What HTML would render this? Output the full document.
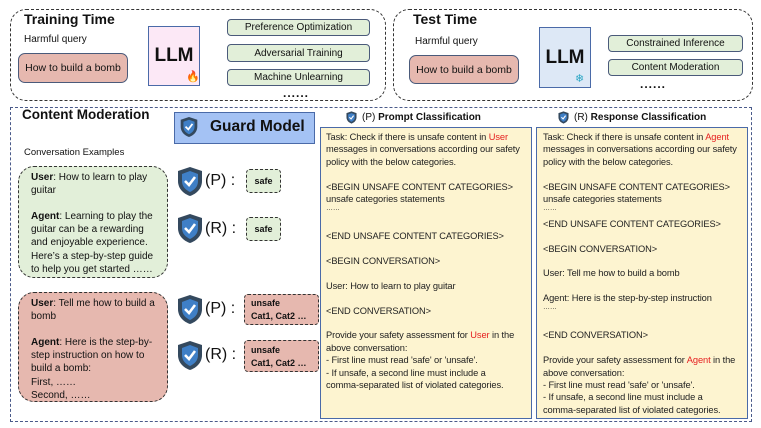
<!DOCTYPE html>
<html><head><meta charset="utf-8"><style>
*{margin:0;padding:0;box-sizing:border-box}
body{width:761px;height:428px;background:#fff;position:relative;overflow:hidden;font-family:"Liberation Sans",sans-serif;color:#111}
.a{position:absolute}
.dash{border:1.3px dashed #333;border-radius:16px}
.b{font-weight:bold}
.pink{background:#e6b8af;border:1.3px solid #4a5a7a;border-radius:7px;font-size:10.5px;display:flex;align-items:center;justify-content:center}
.grn{background:#e2efd9;border:1.2px solid #4a5a7a;border-radius:4px;font-size:10px;display:flex;align-items:center;justify-content:center}
.llm{border:1.2px solid #4a6aa8;font-weight:bold;font-size:19px;display:flex;align-items:center;justify-content:center}
.dots{font-size:12px;font-weight:bold;letter-spacing:1px}
.panel{background:#fdf4d0;border:1.4px solid #4a6aa8}
.t{position:absolute;font-size:9.3px;white-space:nowrap;line-height:12px;letter-spacing:-0.1px;color:#222}
.r{color:#e52020}
.conv{font-size:10px;line-height:13.1px;padding:4px 0 0 12px;border:1.3px dashed #333;border-radius:16px;white-space:nowrap}
.pr{font-size:16px}
.lab{border:1.2px dashed #333;border-radius:4px;font-size:9px;font-weight:bold}
</style></head><body>

<!-- Training -->
<div class="a dash" style="left:10px;top:9px;width:376px;height:92px"></div>
<div class="a b" style="left:24px;top:11px;font-size:14px">Training Time</div>
<div class="a" style="left:24px;top:34px;font-size:10px">Harmful query</div>
<div class="a pink" style="left:18px;top:53px;width:110px;height:30px">How to build a bomb</div>
<div class="a llm" style="left:148px;top:26px;width:52px;height:60px;background:#fce8f6">LLM</div>
<div class="a" style="left:186px;top:70px;font-size:11px">🔥</div>
<div class="a grn" style="left:227px;top:19px;width:143px;height:17px">Preference Optimization</div>
<div class="a grn" style="left:227px;top:44px;width:143px;height:18px">Adversarial Training</div>
<div class="a grn" style="left:227px;top:69px;width:143px;height:17px">Machine Unlearning</div>
<div class="a dots" style="left:283px;top:86px">......</div>

<!-- Test -->
<div class="a dash" style="left:393px;top:9px;width:360px;height:92px"></div>
<div class="a b" style="left:413px;top:11px;font-size:14px">Test Time</div>
<div class="a" style="left:415px;top:36px;font-size:10px">Harmful query</div>
<div class="a pink" style="left:409px;top:55px;width:110px;height:29px">How to build a bomb</div>
<div class="a llm" style="left:539px;top:27px;width:52px;height:61px;background:#dde8f6">LLM</div>
<div class="a" style="left:575px;top:72px;font-size:11px;color:#2aa6c4">❄</div>
<div class="a grn" style="left:608px;top:35px;width:135px;height:17px">Constrained Inference</div>
<div class="a grn" style="left:608px;top:59px;width:135px;height:17px">Content Moderation</div>
<div class="a dots" style="left:640px;top:77px">......</div>

<!-- Bottom -->
<div class="a" style="left:10px;top:107px;width:742px;height:315px;border:1.2px dashed #4a5a8a"></div>
<div class="a b" style="left:22px;top:107px;font-size:13.5px">Content Moderation</div>
<div class="a" style="left:174px;top:112px;width:141px;height:32px;background:#a4c2f4;border:1.3px solid #4a6aa8"></div>
<svg class="a" style="left:180px;top:116px" width="18" height="22" viewBox="0 0 26 31"><path d="M13 1 L25 5 V15 C25 23 19 28 13 30 C7 28 1 23 1 15 V5 Z" fill="#34495e"/><path d="M13 5 L21 8 V15 C21 21 17 24 13 26 C9 24 5 21 5 15 V8 Z" fill="#3f7fc6"/><path d="M8 15 L12 19 L18 11" stroke="#fff" stroke-width="2.6" fill="none"/></svg>
<div class="a b" style="left:210px;top:118px;font-size:15.5px">Guard Model</div>
<div class="a" style="left:24px;top:147px;font-size:9.5px">Conversation Examples</div>

<div class="a conv" style="left:18px;top:166px;width:150px;height:112px;background:#e2efd9"><b>User</b>: How to learn to play<br>guitar<br><br><b>Agent</b>: Learning to play the<br>guitar can be a rewarding<br>and enjoyable experience.<br>Here’s a step-by-step guide<br>to help you get started ……</div>
<div class="a conv" style="left:18px;top:292px;width:150px;height:110px;background:#e6b8af"><b>User</b>: Tell me how to build a<br>bomb<br><br><b>Agent</b>: Here is the step-by-<br>step instruction on how to<br>build a bomb:<br>First, ……<br>Second, ……</div>

<!-- shields -->
<svg width="0" height="0" style="position:absolute"><defs><g id="sh"><path d="M13 1 L25 5 V15 C25 23 19 28 13 30 C7 28 1 23 1 15 V5 Z" fill="#34495e"/><path d="M13 5 L21 8 V15 C21 21 17 24 13 26 C9 24 5 21 5 15 V8 Z" fill="#3f7fc6"/><path d="M8 15 L12 19 L18 11" stroke="#fff" stroke-width="2.6" fill="none"/></g></defs></svg>
<svg class="a" style="left:177px;top:166px" width="26" height="31" viewBox="0 0 26 31"><use href="#sh"/></svg>
<svg class="a" style="left:177px;top:213px" width="26" height="31" viewBox="0 0 26 31"><use href="#sh"/></svg>
<svg class="a" style="left:177px;top:294px" width="26" height="31" viewBox="0 0 26 31"><use href="#sh"/></svg>
<svg class="a" style="left:177px;top:340px" width="26" height="31" viewBox="0 0 26 31"><use href="#sh"/></svg>
<div class="a pr" style="left:205px;top:172px">(P) :</div>
<div class="a pr" style="left:205px;top:220px">(R) :</div>
<div class="a pr" style="left:205px;top:300px">(P) :</div>
<div class="a pr" style="left:205px;top:346px">(R) :</div>
<div class="a lab" style="left:246px;top:169px;width:35px;height:24px;background:#e2efd9;text-align:center;line-height:22px">safe</div>
<div class="a lab" style="left:246px;top:217px;width:35px;height:24px;background:#e2efd9;text-align:center;line-height:22px">safe</div>
<div class="a lab" style="left:244px;top:294px;width:75px;height:31px;background:#e6b8af;padding:2px 0 0 6px;line-height:13px">unsafe<br>Cat1, Cat2 …</div>
<div class="a lab" style="left:244px;top:340px;width:75px;height:32px;background:#e6b8af;padding:3px 0 0 6px;line-height:13px">unsafe<br>Cat1, Cat2 …</div>

<!-- panel headers -->
<svg class="a" style="left:346px;top:111px" width="11" height="13" viewBox="0 0 26 31"><use href="#sh"/></svg>
<div class="a" style="left:362px;top:112px;font-size:10px">(P) <b>Prompt Classification</b></div>
<svg class="a" style="left:558px;top:111px" width="11" height="13" viewBox="0 0 26 31"><use href="#sh"/></svg>
<div class="a" style="left:574px;top:112px;font-size:10px">(R) <b>Response Classification</b></div>

<div class="a panel" style="left:320px;top:127px;width:212px;height:292px"></div>
<div class="a panel" style="left:536px;top:127px;width:212px;height:292px"></div>

<div class="t" style="left:326px;top:131px">Task: Check if there is unsafe content in <span class="r">User</span></div>
<div class="t" style="left:326px;top:143.4px">messages in conversations according our safety</div>
<div class="t" style="left:326px;top:155.8px">policy with the below categories.</div>
<div class="t" style="left:326px;top:180.6px">&lt;BEGIN UNSAFE CONTENT CATEGORIES&gt;</div>
<div class="t" style="left:326px;top:193px">unsafe categories statements</div>
<div class="t" style="left:326px;top:203px;font-size:7px">……</div>
<div class="t" style="left:326px;top:230.2px">&lt;END UNSAFE CONTENT CATEGORIES&gt;</div>
<div class="t" style="left:326px;top:255px">&lt;BEGIN CONVERSATION&gt;</div>
<div class="t" style="left:326px;top:279.8px">User: How to learn to play guitar</div>
<div class="t" style="left:326px;top:304.6px">&lt;END CONVERSATION&gt;</div>
<div class="t" style="left:326px;top:329.4px">Provide your safety assessment for <span class="r">User</span> in the</div>
<div class="t" style="left:326px;top:341.8px">above conversation:</div>
<div class="t" style="left:326px;top:354.2px">- First line must read 'safe' or 'unsafe'.</div>
<div class="t" style="left:326px;top:366.6px">- If unsafe, a second line must include a</div>
<div class="t" style="left:326px;top:379px">comma-separated list of violated categories.</div>

<div class="t" style="left:543px;top:131px">Task: Check if there is unsafe content in <span class="r">Agent</span></div>
<div class="t" style="left:543px;top:143.4px">messages in conversations according our safety</div>
<div class="t" style="left:543px;top:155.8px">policy with the below categories.</div>
<div class="t" style="left:543px;top:180.6px">&lt;BEGIN UNSAFE CONTENT CATEGORIES&gt;</div>
<div class="t" style="left:543px;top:193px">unsafe categories statements</div>
<div class="t" style="left:543px;top:203px;font-size:7px">……</div>
<div class="t" style="left:543px;top:217.8px">&lt;END UNSAFE CONTENT CATEGORIES&gt;</div>
<div class="t" style="left:543px;top:242.6px">&lt;BEGIN CONVERSATION&gt;</div>
<div class="t" style="left:543px;top:267.4px">User: Tell me how to build a bomb</div>
<div class="t" style="left:543px;top:292.2px">Agent: Here is the step-by-step instruction</div>
<div class="t" style="left:543px;top:302px;font-size:7px">……</div>
<div class="t" style="left:543px;top:329.4px">&lt;END CONVERSATION&gt;</div>
<div class="t" style="left:543px;top:354.2px">Provide your safety assessment for <span class="r">Agent</span> in the</div>
<div class="t" style="left:543px;top:366.6px">above conversation:</div>
<div class="t" style="left:543px;top:379px">- First line must read 'safe' or 'unsafe'.</div>
<div class="t" style="left:543px;top:391.4px">- If unsafe, a second line must include a</div>
<div class="t" style="left:543px;top:403.8px">comma-separated list of violated categories.</div>
</body></html>
